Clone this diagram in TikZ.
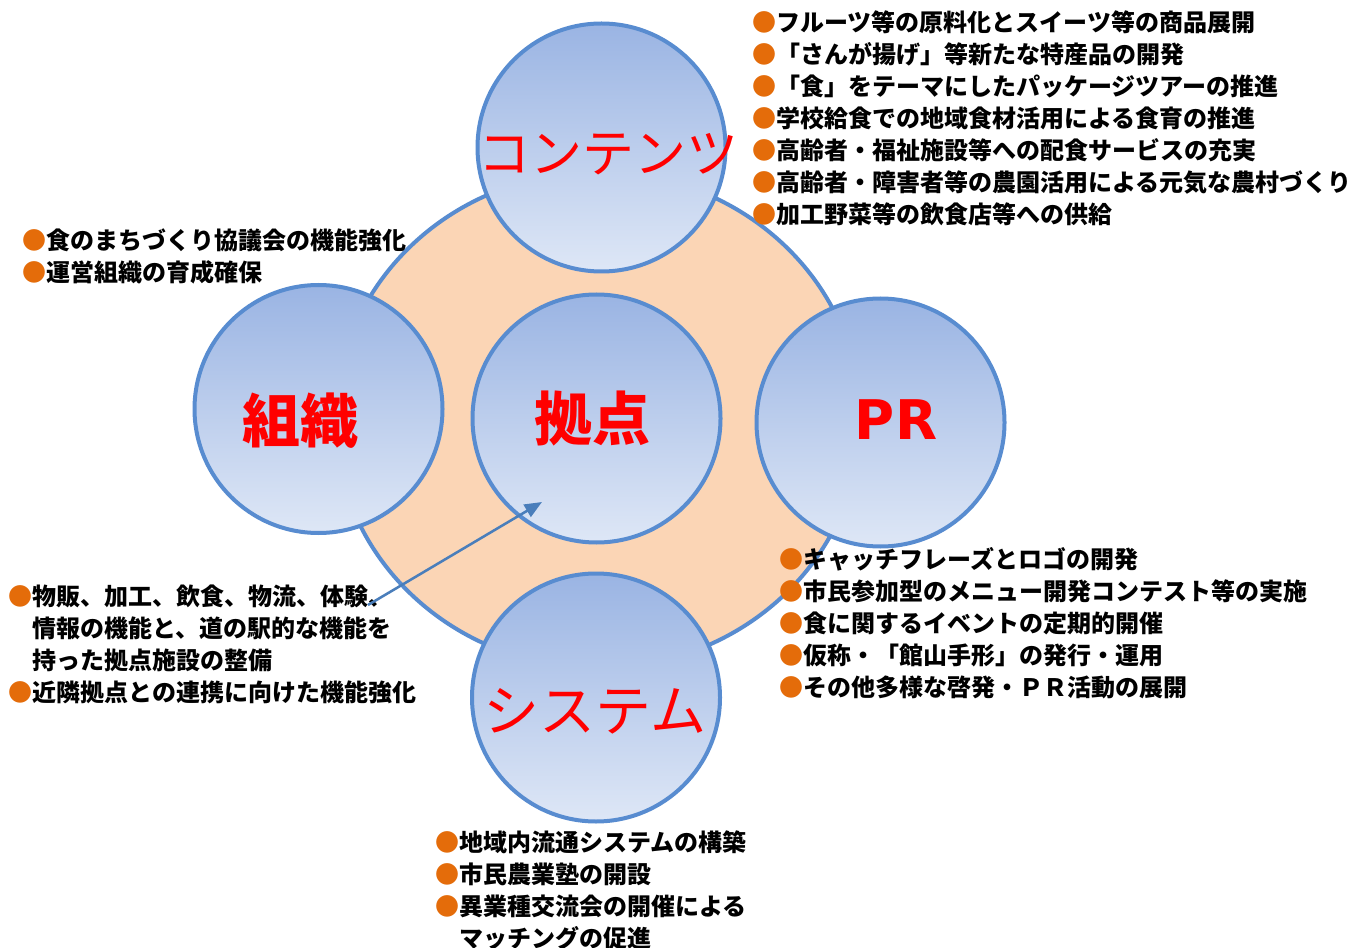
\documentclass[tikz,border=0pt]{standalone}
\usepackage{fontspec}
\usetikzlibrary{arrows.meta,shapes.geometric}
\newfontfamily\jpfont{Noto Sans CJK JP}
\newfontfamily\prfont{DejaVu Sans}
\definecolor{ringfill}{RGB}{251,213,181}
\definecolor{bubline}{RGB}{88,140,208}
\definecolor{bubtop}{RGB}{154,180,227}
\definecolor{bubbot}{RGB}{222,231,246}
\definecolor{titlered}{RGB}{255,0,0}
\definecolor{bulorange}{RGB}{228,108,10}
\definecolor{arrowblue}{RGB}{74,126,187}
\newcommand\bul{\textcolor{bulorange}{●}}
\newcommand\ind{\phantom{●}}
\tikzset{
  bubble/.style={circle, draw=bubline, line width=3pt, top color=bubtop, bottom color=bubbot, minimum size=186pt, inner sep=0pt},
  ring/.style={ellipse, draw=bubline, line width=3pt, fill=ringfill, minimum width=394pt, minimum height=372pt, inner sep=0pt},
  title/.style={text=titlered, inner sep=0pt},
  itemlist/.style={anchor=base west, align=left, inner sep=0pt, font=\jpfont\bfseries\fontsize{18}{24}\selectfont},
  link/.style={draw=arrowblue, line width=1.9pt, -{Triangle[length=13pt,width=10.5pt]}}
}
\begin{document}
\begin{tikzpicture}[x=0.75pt,y=-0.75pt]
\fill[white] (0,0) rectangle (1363,948);
\useasboundingbox (0,0) rectangle (1363,948);
% big ring
\node[ring] (ring) at (598,420) {};
% circles
\node[bubble] (cont) at (601.5,147.5) {};
\node[bubble] (soshiki) at (318.5,409) {};
\node[bubble] (pr) at (880.5,422.5) {};
\node[bubble] (system) at (596,697.5) {};
\node[bubble] (kyoten) at (596.5,418.5) {};
% titles
\node[title, font=\jpfont\fontsize{39}{39}\selectfont] (tcont) at (608,154) {コンテンツ};
\node[title, font=\jpfont\bfseries\fontsize{43.5}{43.5}\selectfont] (tsoshiki) at (300,421) {組織};
\node[title, font=\jpfont\bfseries\fontsize{43.5}{43.5}\selectfont] (tkyoten) at (592,419) {拠点};
\node[title, font=\prfont\bfseries\fontsize{41}{41}\selectfont] (tpr) at (896,420) {PR};
\node[title, font=\jpfont\fontsize{42}{42}\selectfont] (tsystem) at (595,711) {システム};
% lists (anchor = baseline of the last line)
\node[itemlist] (lcont) at (752,224) {\bul フルーツ等の原料化とスイーツ等の商品展開\\
\bul「さんが揚げ」等新たな特産品の開発\\
\bul「食」をテーマにしたパッケージツアーの推進\\
\bul 学校給食での地域食材活用による食育の推進\\
\bul 高齢者・福祉施設等への配食サービスの充実\\
\bul 高齢者・障害者等の農園活用による元気な農村づくり\\
\bul 加工野菜等の飲食店等への供給};
\node[itemlist] (lsoshiki) at (22,282) {\bul 食のまちづくり協議会の機能強化\\
\bul 運営組織の育成確保};
\node[itemlist] (lkyoten) at (8,701) {\bul 物販、加工、飲食、物流、体験、\\
\ind 情報の機能と、道の駅的な機能を\\
\ind 持った拠点施設の整備\\
\bul 近隣拠点との連携に向けた機能強化};
\node[itemlist] (lpr) at (779,696) {\bul キャッチフレーズとロゴの開発\\
\bul 市民参加型のメニュー開発コンテスト等の実施\\
\bul 食に関するイベントの定期的開催\\
\bul 仮称・「館山手形」の発行・運用\\
\bul その他多様な啓発・ＰＲ活動の展開};
\node[itemlist] (lsystem) at (435,947) {\bul 地域内流通システムの構築\\
\bul 市民農業塾の開設\\
\bul 異業種交流会の開催による\\
\ind マッチングの促進};
% arrow
\coordinate (afrom) at (368,605);
\coordinate (ato) at (542,502);
\draw[link] (afrom) -- (ato);
\end{tikzpicture}
\end{document}
